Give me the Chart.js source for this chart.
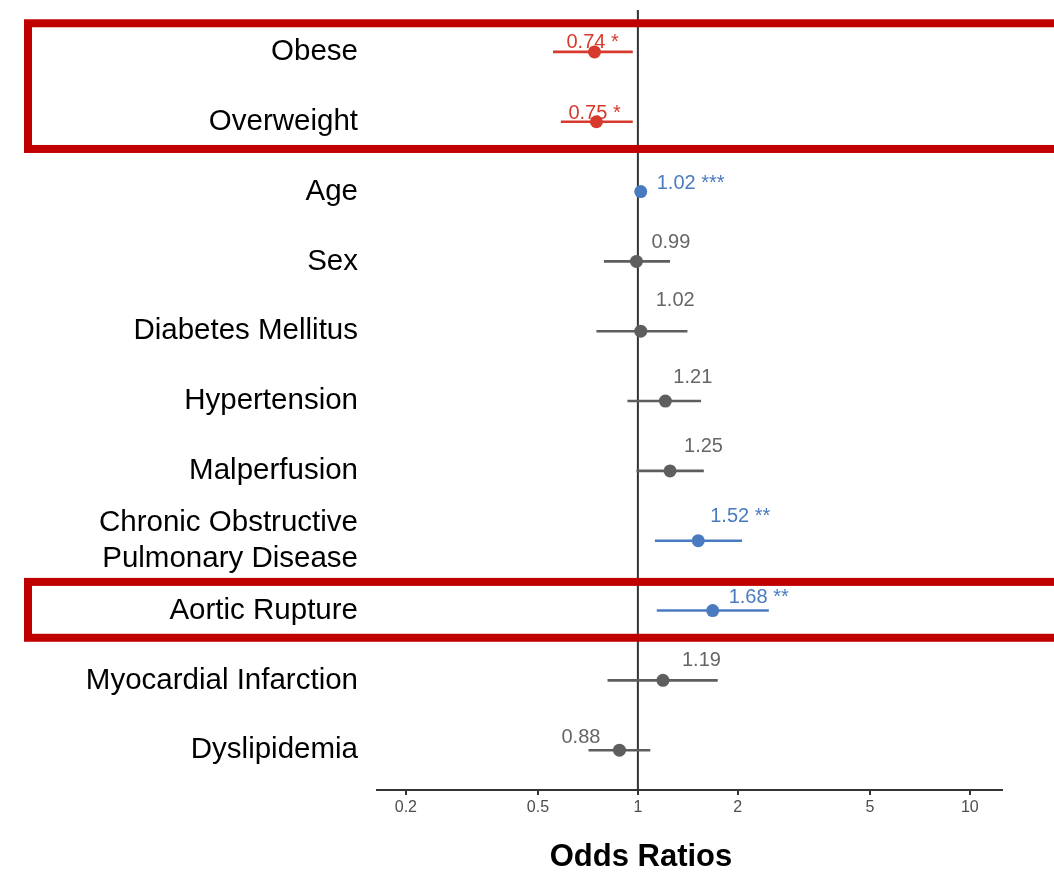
<!DOCTYPE html>
<html>
<head>
<meta charset="utf-8">
<script src="https://cdn.jsdelivr.net/npm/chart.js@4"></script>
<style>
  html, body { margin: 0; padding: 0; background: #fff; }
  #wrap { width: 1054px; height: 872px; position: relative; }
</style>
</head>
<body>
<div id="wrap"><canvas id="forest"></canvas></div>
<script>
// ---- data ----
const factors = [
  "Obese",
  "Overweight",
  "Age",
  "Sex",
  "Diabetes Mellitus",
  "Hypertension",
  "Malperfusion",
  ["Chronic Obstructive", "Pulmonary Disease"],
  "Aortic Rupture",
  "Myocardial Infarction",
  "Dyslipidemia",
];
const oddsRatios = [0.74, 0.75, 1.02, 0.99, 1.02, 1.21, 1.25, 1.52, 1.68, 1.19, 0.88];
const ciLower = [0.555, 0.586, 1.01, 0.79, 0.75, 0.93, 0.99, 1.125, 1.14, 0.81, 0.71];
const ciUpper = [0.965, 0.965, 1.03, 1.25, 1.41, 1.55, 1.58, 2.06, 2.48, 1.74, 1.09];
const significance = ["*", "*", "***", "", "", "", "", "**", "**", "", ""];
const xTicks = [0.2, 0.5, 1, 2, 5, 10];
const highlighted = [[0, 1], [8]];

// ---- styling ----
const RED = "#d63a2c";
const BLUE = "#4a7bbf";
const GREY = "#5e5e5e";
const FONT = "'Liberation Sans', Arial, Helvetica, sans-serif";

// label offsets (px) from each point: [dx to left edge, dy to text middle]
const labelOffsets = [
  [-28, -9], [-28, -8], [16, -8], [15, -19], [15, -31], [8, -24],
  [14, -24], [12, -24], [16, -13], [19, -20], [-58, -13],
];

function rowColor(i) {
  if (!significance[i]) return GREY;
  return oddsRatios[i] < 1 ? RED : BLUE;
}

Chart.defaults.font.family = FONT;

// reference line at OR = 1 + confidence intervals
const intervalPlugin = {
  id: "intervals",
  beforeDatasetsDraw(chart) {
    const { ctx, chartArea, scales } = chart;
    const x = scales.x;
    const y = scales.y;

    ctx.save();
    ctx.strokeStyle = "#333";
    ctx.lineWidth = 2;
    ctx.beginPath();
    ctx.moveTo(x.getPixelForValue(1), chartArea.top);
    ctx.lineTo(x.getPixelForValue(1), chartArea.bottom);
    ctx.stroke();

    ctx.lineWidth = 2.6;
    oddsRatios.forEach((_, i) => {
      const py = y.getPixelForValue(i);
      ctx.strokeStyle = rowColor(i);
      ctx.beginPath();
      ctx.moveTo(x.getPixelForValue(ciLower[i]), py);
      ctx.lineTo(x.getPixelForValue(ciUpper[i]), py);
      ctx.stroke();
    });
    ctx.restore();
  },
};

// value labels + red highlight boxes
const labelPlugin = {
  id: "valueLabels",
  afterDatasetsDraw(chart) {
    const { ctx, scales } = chart;
    ctx.save();
    ctx.font = "20px " + FONT;
    ctx.textAlign = "left";
    ctx.textBaseline = "middle";
    oddsRatios.forEach((v, i) => {
      const px = scales.x.getPixelForValue(v);
      const py = scales.y.getPixelForValue(i);
      const [dx, dy] = labelOffsets[i];
      ctx.fillStyle = significance[i] ? rowColor(i) : "#666";
      const txt = v.toFixed(2) + (significance[i] ? " " + significance[i] : "");
      ctx.fillText(txt, px + dx, py + dy);
    });
    ctx.restore();
  },
  afterDraw(chart) {
    const { ctx, scales } = chart;
    ctx.save();
    ctx.strokeStyle = "#c00000";
    ctx.lineWidth = 8;
    highlighted.forEach((rows) => {
      const top = scales.y.getPixelForValue(rows[0] - 0.41);
      const bottom = scales.y.getPixelForValue(rows[rows.length - 1] + 0.39);
      ctx.strokeRect(28, top, 1060 - 28, bottom - top);
    });

    // axis title
    ctx.fillStyle = "#000";
    ctx.font = "bold 31px " + FONT;
    ctx.textAlign = "center";
    ctx.textBaseline = "middle";
    ctx.fillText("Odds Ratios", 641, 857);
    ctx.restore();
  },
};

new Chart(document.getElementById("forest"), {
  type: "scatter",
  data: {
    datasets: [
      {
        data: oddsRatios.map((v, i) => ({ x: v, y: i })),
        pointBackgroundColor: oddsRatios.map((_, i) => rowColor(i)),
        pointBorderWidth: 0,
        pointRadius: 6.5,
      },
    ],
  },
  options: {
    responsive: true,
    maintainAspectRatio: false,
    animation: false,
    layout: { padding: { top: 10, right: 52, left: 0, bottom: 0 } },
    plugins: { legend: { display: false }, tooltip: { enabled: false } },
    scales: {
      x: {
        type: "logarithmic",
        min: 0.1637,
        max: 12.5,
        afterBuildTicks: (scale) => {
          scale.ticks = xTicks.map((v) => ({ value: v }));
        },
        afterFit: (scale) => {
          scale.height = 82;
          scale.paddingLeft = 0;
          scale.paddingRight = 0;
        },
        ticks: {
          autoSkip: false,
          maxRotation: 0,
          padding: 3,
          color: "#4d4d4d",
          font: { size: 16 },
          callback: (v) => String(v),
        },
        grid: {
          display: true,
          drawOnChartArea: false,
          drawTicks: true,
          tickLength: 5,
          color: "#333",
          lineWidth: 2,
        },
        border: { display: true, color: "#333", width: 2 },
      },
      y: {
        type: "linear",
        reverse: true,
        min: -0.6,
        max: 10.57,
        afterBuildTicks: (scale) => {
          scale.ticks = factors.map((_, i) => ({ value: i }));
        },
        afterFit: (scale) => {
          scale.width = 377;
          scale.paddingTop = 0;
          scale.paddingBottom = 0;
        },
        ticks: {
          autoSkip: false,
          padding: 19,
          color: "#000",
          font: { size: 29.5, lineHeight: 1.24 },
          callback: (v) => factors[v],
        },
        grid: { display: false, drawTicks: false },
        border: { display: false },
      },
    },
  },
  plugins: [intervalPlugin, labelPlugin],
});
</script>
</body>
</html>
